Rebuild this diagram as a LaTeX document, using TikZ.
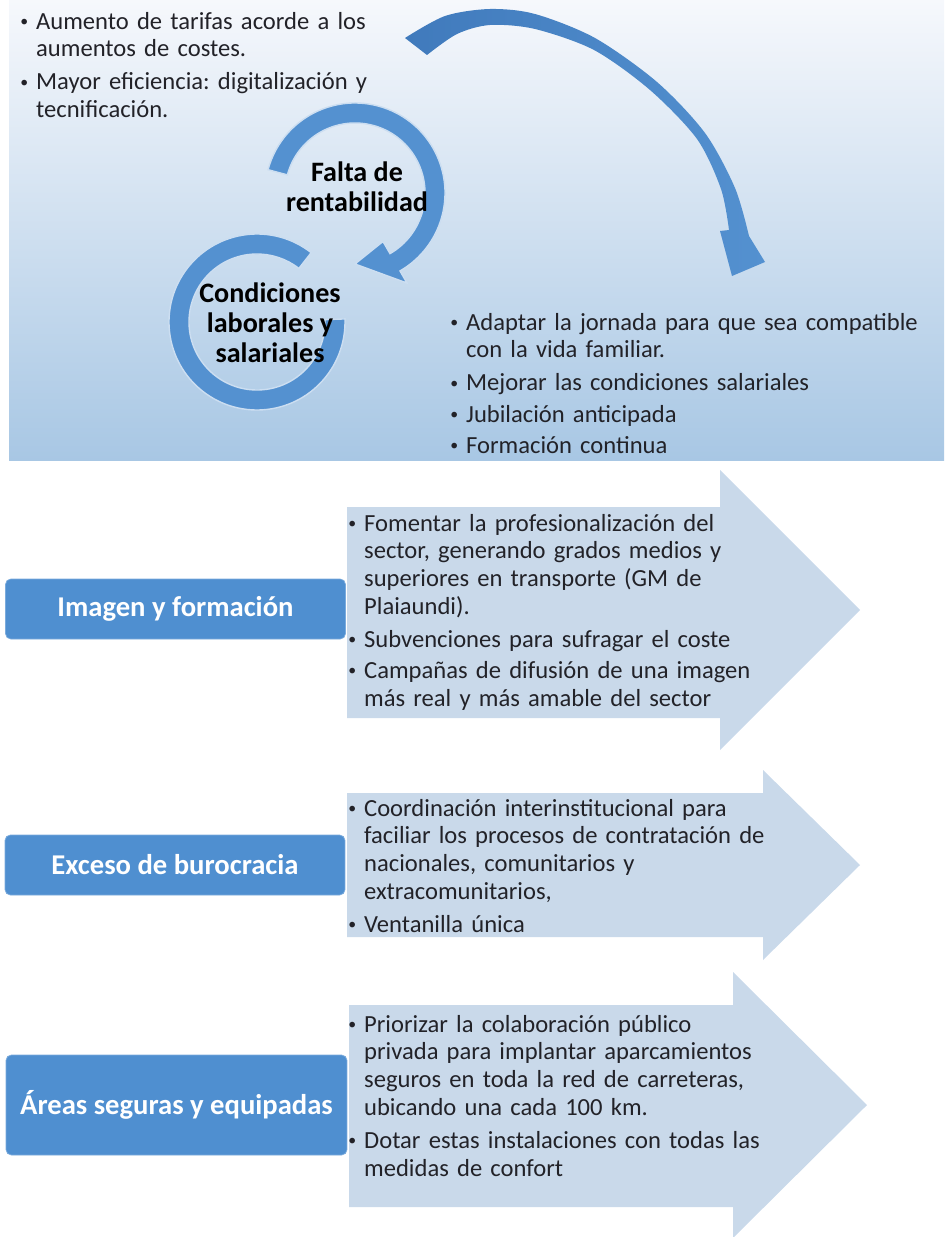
\documentclass[tikz,border=0pt]{standalone}
\usepackage{fontspec}
\setmainfont{Carlito}
\usepackage{tikz}
\usetikzlibrary{positioning, calc}

\definecolor{ringblue}{RGB}{84,145,208}
\definecolor{arcdark}{RGB}{64,122,188}
\definecolor{boxblue}{RGB}{79,143,208}
\definecolor{arrowfill}{RGB}{201,217,234}
\definecolor{paneltop}{RGB}{246,248,252}
\definecolor{panelmid}{RGB}{214,227,241}
\definecolor{panelbot}{RGB}{168,199,228}
\definecolor{textgray}{RGB}{34,34,40}

% one bullet item, lines stacked after the dot
\newcommand{\bitem}[1]{\par\noindent\makebox[9pt][l]{\raisebox{1.6pt}{\fontsize{9}{9}\selectfont\textbullet}}%
  \begin{tabular}[t]{@{}l@{}}#1\end{tabular}\par\vspace{2pt}}

\begin{document}
\frenchspacing
\begin{tikzpicture}[
    x=0.02cm, y=0.02cm,
    bullets/.style={anchor=north west, inner sep=0pt, text width=8.8cm, text=textgray, font=\fontsize{14}{15.8}\selectfont},
    ringlabel/.style={align=center, text=black, font=\fontsize{16}{17}\selectfont\bfseries},
    ring/.style={fill=ringblue, draw=white!70!ringblue, line width=0.8pt},
    boxlabel/.style={rectangle, rounded corners=3pt, draw=boxblue!75!white, fill=boxblue, text=white, minimum width=6.8cm, font=\fontsize{16.3}{18}\selectfont\bfseries},
    blockarrow/.style={fill=arrowfill}
]
\useasboundingbox (0,0) rectangle (947,-1237);

% Top panel
\shade[top color=paneltop, middle color=panelmid, bottom color=panelbot] (9,0) rectangle (944,-460);

\coordinate (c1) at (355,-193);
\coordinate (c2) at (257,-322);

% Circular arrows
\fill[ring] ($(c1)+(165:90)$) arc[start angle=165, end angle=-60, radius=90]
    -- ($(c1)+(-60:104)$) -- (355,-264) -- ($(c1)+(-60:56)$)
    -- ($(c1)+(-60:70)$) arc[start angle=-60, end angle=165, radius=70] -- cycle;
\fill[ring] ($(c2)+(52:88)$) arc[start angle=52, end angle=362, radius=88]
    -- ($(c2)+(2:68)$) arc[start angle=362, end angle=52, radius=68] -- cycle;

\node[ringlabel] (falta) at (357,-187) {Falta de\\rentabilidad};
\node[ringlabel] (condiciones) at (270,-323) {Condiciones\\laborales y\\salariales};

% Big curved arrow
\shade[left color=arcdark, right color=ringblue]
    plot[smooth] coordinates {(405,-38) (445,-16) (490,-9) (535,-14) (595,-38) (657,-82) (705,-133) (735,-188) (749,-236)}
    -- (765,-262) -- (732,-276) -- (720,-231)
    -- plot[smooth] coordinates {(729,-230) (721,-189) (697,-139) (650,-90) (594,-50) (535,-29) (490,-25) (457,-34) (427,-55)}
    -- cycle;

% Panel texts
\node[bullets] (tarifas) at (20,-1) {%
  \bitem{Aumento de tarifas acorde a los\\aumentos de costes.}
  \bitem{Mayor eficiencia: digitalización y\\tecnificación.}};
\node[bullets, text width=9.6cm] (jornada) at (450,-302) {%
  \bitem{Adaptar la jornada para que sea compatible\\con la vida familiar.}
  \bitem{Mejorar las condiciones salariales}
  \bitem{Jubilación anticipada}
  \bitem{Formación continua}};

% Block arrows
\fill[blockarrow] (347,-507) -- (720,-507) -- (720,-470) -- (860,-610) -- (720,-750) -- (720,-718) -- (347,-718) -- cycle;
\fill[blockarrow] (347,-793) -- (763,-793) -- (763,-770) -- (860,-865) -- (763,-960) -- (763,-937) -- (347,-937) -- cycle;
\fill[blockarrow] (349,-1005) -- (733,-1005) -- (733,-972) -- (867,-1105) -- (733,-1238) -- (733,-1207) -- (349,-1207) -- cycle;

% Left labels
\node[boxlabel, minimum height=1.2cm] (imagen) at (175.5,-609) {Imagen y formación};
\node[boxlabel, minimum height=1.2cm] (burocracia) at (175,-865) {Exceso de burocracia};
\node[boxlabel, minimum height=2cm, minimum width=6.82cm] (areas) at (176.5,-1105) {Áreas seguras y equipadas};

% Arrow texts
\node[bullets] (fomentar) at (348,-503) {%
  \bitem{Fomentar la profesionalización del\\sector, generando grados medios y\\superiores en transporte (GM de\\Plaiaundi).}
  \bitem{Subvenciones para sufragar el coste}
  \bitem{Campañas de difusión de una imagen\\más real y más amable del sector}};
\node[bullets] (coordinacion) at (348,-788) {%
  \bitem{Coordinación interinstitucional para\\faciliar los procesos de contratación de\\nacionales, comunitarios y\\extracomunitarios,}
  \bitem{Ventanilla única}};
\node[bullets] (priorizar) at (348,-1004) {%
  \bitem{Priorizar la colaboración público\\privada para implantar aparcamientos\\seguros en toda la red de carreteras,\\ubicando una cada 100 km.}
  \bitem{Dotar estas instalaciones con todas las\\medidas de confort}};

\end{tikzpicture}
\end{document}
